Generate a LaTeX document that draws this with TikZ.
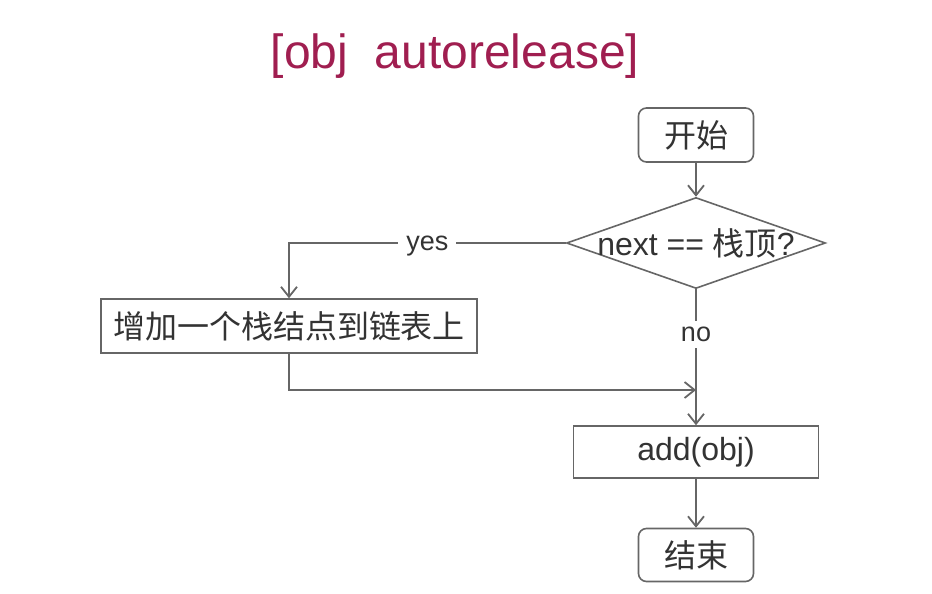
\documentclass[tikz,border=0pt]{standalone}
\usepackage{fontspec}
\setmainfont{Liberation Sans}
\newfontfamily\cjk{Noto Sans CJK SC}
\usetikzlibrary{shapes.geometric, arrows.meta}
\definecolor{titlered}{HTML}{A01E50}
\definecolor{linegray}{HTML}{666666}
\definecolor{textgray}{HTML}{333333}

\begin{document}
\begin{tikzpicture}[x=1pt, y=-1pt, font=\fontsize{32}{35}\selectfont, text=textgray]
	\tikzset{
		terminal/.style = {rectangle, rounded corners=8pt, draw=linegray, line width=1.6pt, minimum width=115pt, minimum height=54pt},
		block/.style = {rectangle, draw=linegray, line width=1.6pt, text centered, minimum height=54pt},
		decision/.style = {diamond, draw=linegray, line width=1.6pt, inner sep=0pt, minimum width=259pt, minimum height=91pt},
		tag/.style = {fill=white, inner xsep=8pt, font=\fontsize{27}{30}\selectfont},
		arr/.style = {draw=linegray, line width=1.6pt, -{Straight Barb[length=10pt, width=16pt, line width=1.8pt]}}
	}
	\useasboundingbox[fill=white] (0, 0) rectangle (932, 594);
	% title
	\node[text=titlered, font=\fontsize{48}{52}\selectfont] (title) at (455, 56) {[obj\ \ autorelease]};
	% nodes
	\node[terminal] (start) at (696, 135) {\cjk 开始};
	\node[decision, label={center:next == {\cjk 栈顶}?}] (check) at (696, 243) {};
	\node[block, minimum width=376pt] (push) at (289, 326) {\cjk 增加一个栈结点到链表上};
	\node[block, minimum width=245pt, minimum height=52pt] (add) at (696, 452) {add(obj)};
	\node[terminal, minimum height=53pt] (stop) at (696, 555) {\cjk 结束};
	\coordinate (merge) at (696, 390);
	% connectors
	\draw[arr] (start) -- (check);
	\draw[arr] (check.west) -| node[tag, pos=0.25, inner ysep=1pt, yshift=-3pt] {yes} (push.north);
	\draw[arr] (check.south) -- node[tag, pos=0.33, inner ysep=6pt] {no} (add.north);
	\draw[arr] (push.south) |- (merge);
	\draw[arr] (add) -- (stop);
\end{tikzpicture}
\end{document}
